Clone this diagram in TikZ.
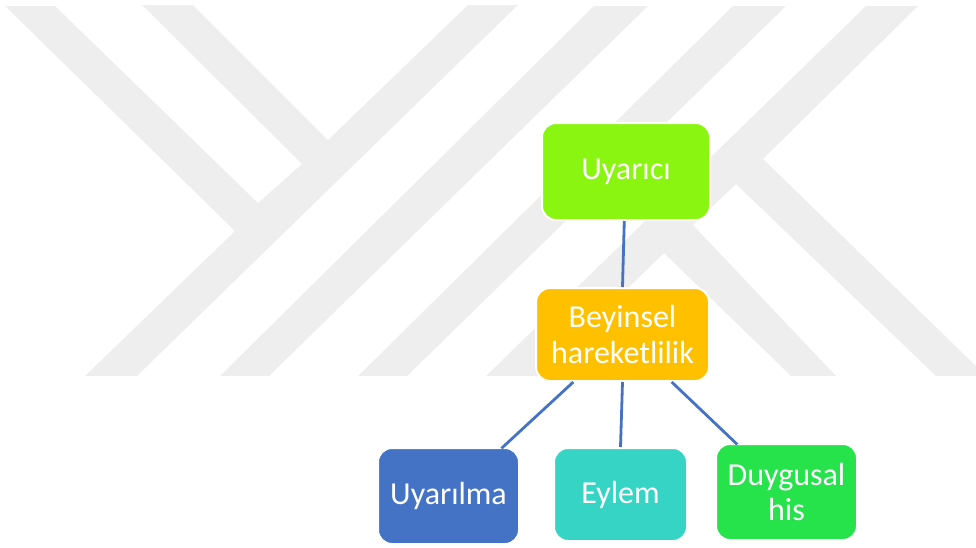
\documentclass[tikz,border=0pt]{standalone}
\usepackage{fontspec}
\setmainfont{Carlito}
\definecolor{markgray}{HTML}{EEEEEE}
\definecolor{linkblue}{HTML}{4472C4}
\definecolor{stimgreen}{HTML}{8AF511}
\definecolor{brainorange}{HTML}{FFC000}
\definecolor{actionteal}{HTML}{36D4C4}
\definecolor{feelgreen}{HTML}{26E34C}
\begin{document}
\begin{tikzpicture}[x=1pt, y=-1pt,
	box/.style={draw=white, line width=2pt, rounded corners=14pt, inner sep=0pt, align=center, text=white, font=\fontsize{32}{35.5}\selectfont},
	link/.style={draw=linkblue, line width=2.8pt}]
	\useasboundingbox (0,0) rectangle (976,547);
	\fill[markgray] (5,6) -- (55,6) -- (258,203) -- (302,164) -- (142,5) -- (193,5) -- (328,140) -- (468,5) -- (518,5) -- (137,376) -- (85,376) -- (235,231) -- cycle;
	\fill[markgray] (594,6) -- (648,6) -- (269,376) -- (220,376) -- cycle;
	\fill[markgray] (733,6) -- (786,6) -- (407,376) -- (358,376) -- cycle;
	\fill[markgray] (866,6) -- (918,6) -- (763,159) -- (976,366) -- (976,376) -- (936,376) -- (736,184) -- (693,225) -- (836,376) -- (791,376) -- (664,253) -- (537,376) -- (486,376) -- cycle;
	\node[box, fill=stimgreen, minimum width=168pt, minimum height=97pt] (uyarici) at (626,171.5) {\raisebox{-4.5pt}{Uyarıcı}};
	\node[box, fill=brainorange, minimum width=173pt, minimum height=93pt] (beyinsel) at (622.5,334.5) {Beyinsel\\hareketlilik};
	\node[box, fill=linkblue, minimum width=141pt, minimum height=96pt] (uyarilma) at (448.5,496) {Uyarılma};
	\node[box, fill=actionteal, minimum width=133pt, minimum height=93pt] (eylem) at (620.5,494.5) {Eylem};
	\node[box, fill=feelgreen, minimum width=141pt, minimum height=96pt] (duygusal) at (786.5,492) {Duygusal\\his};
	\draw[link] (uyarici.268) -- (beyinsel.north);
	\draw[link, shorten >=-2pt] (beyinsel.224) -- (uyarilma.42.5);
	\draw[link] (beyinsel.south) -- (eylem.north);
	\draw[link, shorten >=-2pt] (beyinsel.316) -- (duygusal.136.5);
\end{tikzpicture}
\end{document}
